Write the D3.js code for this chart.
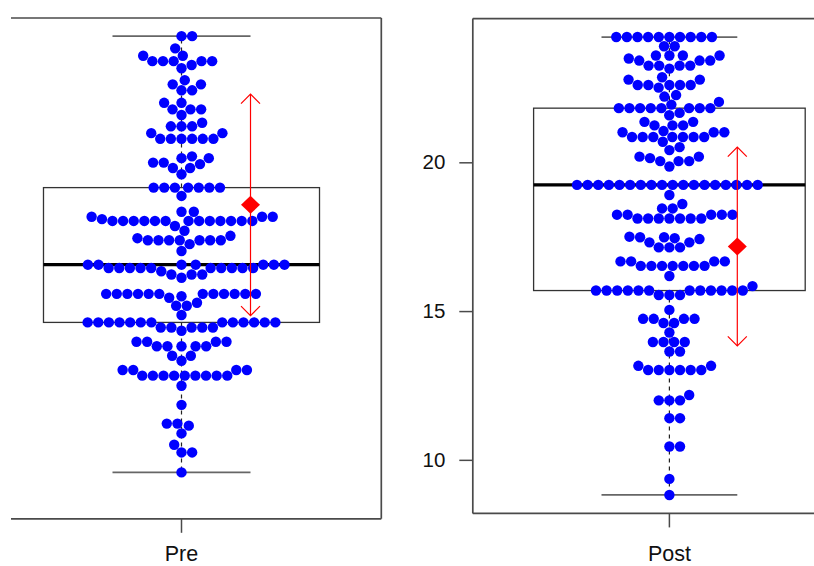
<!DOCTYPE html>
<html>
<head>
<meta charset="utf-8">
<script src="https://cdn.jsdelivr.net/npm/d3@7"></script>
<style>
html,body{margin:0;padding:0;background:#fff;}
svg{display:block;}
text{font-family:"Liberation Sans",Arial,Helvetica,sans-serif;fill:#111;}
</style>
</head>
<body>
<svg id="chart" width="814" height="566"></svg>
<script>
// ---------------- DATA ----------------
const groups = ["Pre", "Post"];

// distinct observed levels and how many points sit at each level
const preLevels = [24.27,23.86,23.61,23.43,23.30,23.19,22.79,22.65,22.45,22.03,21.81,21.62,
  21.36,21.24,21.01,20.82,20.23,20.17,20.02,19.97,19.84,19.63,19.18,18.90,18.37,18.20,18.12,
  18.06,17.89,17.73,17.56,17.48,17.41,17.28,17.05,16.59,16.48,16.37,16.26,16.15,15.61,15.53,
  15.48,15.31,15.21,14.90,14.65,14.48,14.37,14.00,13.85,13.53,13.36,13.05,12.86,12.52,11.88,
  11.25,11.18,10.92,10.54,10.28,9.61];
const preCounts = [2,1,2,5,1,1,1,2,2,2,3,1,1,3,2,6,1,2,2,1,2,1,7,1,2,3,1,13,1,1,1,1,7,1,1,
  7,10,1,3,1,12,1,1,1,2,1,13,5,1,4,5,2,1,4,9,1,1,2,1,1,1,2,1];

const postLevels = [24.21,23.90,23.59,23.49,23.42,23.25,23.15,22.86,22.78,22.60,22.51,22.26,
  22.21,22.03,21.94,21.82,21.66,21.58,21.36,21.24,21.05,21.01,20.85,20.69,20.51,20.41,20.19,
  20.14,20.04,19.86,19.24,18.90,18.60,18.45,18.24,18.11,17.50,17.48,17.45,17.42,17.31,17.14,
  16.67,16.52,16.18,15.84,15.69,15.54,15.04,14.74,14.60,14.28,13.96,13.64,13.16,13.02,12.18,
  12.00,11.40,10.45,9.36,8.82];
const postCounts = [10,2,4,1,3,4,1,1,2,5,1,1,1,1,1,8,1,1,2,3,1,3,7,1,1,1,2,1,3,1,18,1,1,2,5,7,
  1,2,1,1,2,3,4,7,1,1,12,3,1,4,2,1,4,2,2,6,1,3,2,2,1,1];

// red marker (centre and half-length of the double arrow), per group
const markerCenter = [18.60, 17.17];
const markerHalf = [3.72, 3.34];

// y-axis
const preDomain = [8.05, 24.88];
const postDomain = [8.20, 24.83];
const postTicks = [10, 15, 20];

// ---------------- LAYOUT ----------------
const svg = d3.select("#chart");
const panels = [
  {name: groups[0], levels: preLevels, counts: preCounts, domain: preDomain,
   left: -18.3, right: 381.3, top: 18, bottom: 518.8, lineStart: 11, labelY: 561, axis: false},
  {name: groups[1], levels: postLevels, counts: postCounts, domain: postDomain,
   left: 472.8, right: 866, top: 18.6, bottom: 513.4, lineStart: 472.8, labelY: 561, axis: true}
];
const DOT = 10.63;       // swarm spacing in px
const BOX_HALF = 0.373;  // box half width (x units)
const CAP_HALF = 0.1865; // whisker cap half width (x units)

function expand(levels, counts) {
  const out = [];
  levels.forEach((v, i) => { for (let k = 0; k < counts[i]; k++) out.push(v); });
  return out;
}
function fivenum(arr) {
  const x = arr.slice().sort((a, b) => a - b), n = x.length;
  const n4 = Math.floor((n + 3) / 2) / 2;
  return [1, n4, (n + 1) / 2, n + 1 - n4, n].map(d => 0.5 * (x[Math.floor(d) - 1] + x[Math.ceil(d) - 1]));
}
// beeswarm "swarm" placement, ascending priority
function swarm(values, y) {
  const pts = values.map((v, i) => ({i, v, u: -y(v) / DOT, off: 0}));
  const order = pts.slice().sort((a, b) => (a.v - b.v) || (a.i - b.i));
  const placed = [];
  order.forEach(p => {
    const pot = placed.filter(q => Math.abs(p.u - q.u) < 1);
    if (pot.length) {
      const cands = [0];
      pot.forEach(q => cands.push(q.off + Math.sqrt(1 - (p.u - q.u) ** 2)));
      pot.forEach(q => cands.push(q.off - Math.sqrt(1 - (p.u - q.u) ** 2)));
      let best = 0, bestAbs = Infinity;
      cands.forEach(c => {
        const bad = pot.some(q => (p.u - q.u) ** 2 + (c - q.off) ** 2 < 0.999);
        if (!bad && Math.abs(c) < bestAbs) { bestAbs = Math.abs(c); best = c; }
      });
      p.off = best;
    }
    placed.push(p);
  });
  return pts;
}

panels.forEach((P, gi) => {
  const g = svg.append("g");
  const x = d3.scaleLinear().domain([0.46, 1.54]).range([P.left, P.right]);
  const y = d3.scaleLinear().domain(P.domain).range([P.bottom, P.top]);
  const vals = expand(P.levels, P.counts);
  const [mn, q1, med, q3, mx] = fivenum(vals);
  const cx = x(1);

  // frame
  const frame = "#4a4a4a";
  g.append("line").attr("x1", P.lineStart).attr("x2", Math.min(P.right, 814)).attr("y1", P.top).attr("y2", P.top)
    .attr("stroke", frame).attr("stroke-width", 1.7);
  g.append("line").attr("x1", P.lineStart).attr("x2", Math.min(P.right, 814)).attr("y1", P.bottom).attr("y2", P.bottom)
    .attr("stroke", frame).attr("stroke-width", 1.7);
  if (P.right < 814) g.append("line").attr("x1", P.right).attr("x2", P.right).attr("y1", P.top).attr("y2", P.bottom)
    .attr("stroke", frame).attr("stroke-width", 1.7);
  if (P.left > 0) g.append("line").attr("x1", P.left).attr("x2", P.left).attr("y1", P.top).attr("y2", P.bottom)
    .attr("stroke", frame).attr("stroke-width", 1.7);

  // x tick + label
  g.append("line").attr("x1", cx).attr("x2", cx).attr("y1", P.bottom).attr("y2", P.bottom + 14)
    .attr("stroke", frame).attr("stroke-width", 1.5);
  g.append("text").attr("x", cx).attr("y", P.labelY).attr("text-anchor", "middle")
    .attr("font-size", 21.5).text(P.name);

  // y axis (Post only visible)
  if (P.axis) {
    const ax = g.append("g").attr("transform", `translate(${P.left},0)`)
      .call(d3.axisLeft(y).tickValues(postTicks).tickSize(13.5).tickPadding(14).tickFormat(d3.format("d")));
    ax.select(".domain").remove();
    ax.selectAll(".tick line").attr("stroke", frame).attr("stroke-width", 1.5);
    ax.selectAll(".tick text").attr("font-size", 20.5).attr("fill", "#111")
      .style("font-family", '"Liberation Sans",Arial,sans-serif');
  }

  // box
  g.append("line").attr("x1", cx).attr("x2", cx).attr("y1", y(q3)).attr("y2", y(mx))
    .attr("stroke", "#222").attr("stroke-width", 1.2).attr("stroke-dasharray", "4,4");
  g.append("line").attr("x1", cx).attr("x2", cx).attr("y1", y(q1)).attr("y2", y(mn))
    .attr("stroke", "#222").attr("stroke-width", 1.2).attr("stroke-dasharray", "4,4");
  [mx, mn].forEach(v => g.append("line").attr("x1", x(1 - CAP_HALF)).attr("x2", x(1 + CAP_HALF))
    .attr("y1", y(v)).attr("y2", y(v)).attr("stroke", "#666").attr("stroke-width", 1.8));
  g.append("rect").attr("x", x(1 - BOX_HALF)).attr("y", y(q3))
    .attr("width", x(1 + BOX_HALF) - x(1 - BOX_HALF)).attr("height", y(q1) - y(q3))
    .attr("fill", "none").attr("stroke", "#333").attr("stroke-width", 1.3);
  g.append("line").attr("x1", x(1 - BOX_HALF)).attr("x2", x(1 + BOX_HALF)).attr("y1", y(med)).attr("y2", y(med))
    .attr("stroke", "#000").attr("stroke-width", 3.2);

  // swarm points
  const pts = swarm(vals, y);
  g.append("g").selectAll("circle").data(pts).join("circle")
    .attr("cx", d => cx + d.off * DOT).attr("cy", d => y(d.v)).attr("r", 5.2)
    .attr("fill", "#0000ff");

  // red marker with double arrow
  const mxp = x(1 + CAP_HALF);
  const yTop = y(markerCenter[gi] + markerHalf[gi]);
  const yBot = y(markerCenter[gi] - markerHalf[gi]);
  const red = "#ff0000";
  g.append("line").attr("x1", mxp).attr("x2", mxp).attr("y1", yTop).attr("y2", yBot)
    .attr("stroke", red).attr("stroke-width", 1.2);
  const hw = 9.5, hl = 9.5;
  g.append("path").attr("d", `M${mxp - hw},${yTop + hl}L${mxp},${yTop}L${mxp + hw},${yTop + hl}`)
    .attr("fill", "none").attr("stroke", red).attr("stroke-width", 1.2);
  g.append("path").attr("d", `M${mxp - hw},${yBot - hl}L${mxp},${yBot}L${mxp + hw},${yBot - hl}`)
    .attr("fill", "none").attr("stroke", red).attr("stroke-width", 1.2);
  const ym = y(markerCenter[gi]);
  g.append("path").attr("d", `M${mxp},${ym - 9}L${mxp + 9.5},${ym}L${mxp},${ym + 9}L${mxp - 9.5},${ym}Z`)
    .attr("fill", red);
});
</script>
</body>
</html>
